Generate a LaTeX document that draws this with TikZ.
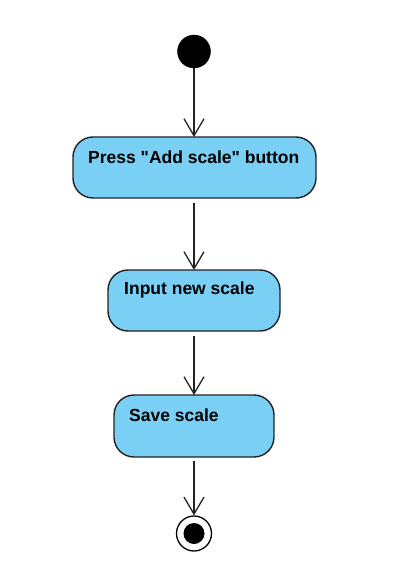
\documentclass[tikz,border=0pt]{standalone}
\usepackage{fontspec}
\setmainfont{Liberation Sans}
\usetikzlibrary{arrows.meta,calc}
\definecolor{actfill}{RGB}{122,207,245}
\definecolor{actline}{RGB}{34,34,34}
\begin{document}
\begin{tikzpicture}[x=1pt,y=-1pt,
  action/.style={draw=actline, fill=actfill, line width=1.4pt, rounded corners=20pt,
    inner sep=0pt, outer sep=0pt},
  caption/.style={anchor=west, inner sep=0pt, font=\fontsize{17.5}{20}\selectfont\bfseries},
  flow/.style={draw=actline, line width=1.3pt,
    -{Straight Barb[length=17pt,width=20pt,line width=1.3pt]}},
  initial/.style={circle, fill=black, draw=black, minimum size=33pt, inner sep=0pt},
  finalring/.style={circle, draw=black, line width=1.3pt, fill=white, minimum size=35pt, inner sep=0pt},
  finaldot/.style={circle, fill=black, minimum size=21pt, inner sep=0pt}]
\useasboundingbox (0,0) rectangle (405,580);

% initial node
\node[initial] (start) at (194,51.5) {};

% actions
\node[action, minimum width=243pt, minimum height=61pt] (press) at (194.5,167.5) {};
\node[caption] (presstxt) at ($(press.north west)+(15,20)$)
  {Press \textquotedbl Add scale\textquotedbl{} button};

\node[action, minimum width=172pt, minimum height=61pt] (input) at (194,300.5) {};
\node[caption] (inputtxt) at ($(input.north west)+(16,20)$) {Input new scale};

\node[action, minimum width=160pt, minimum height=62pt] (save) at (194,426) {};
\node[caption] (savetxt) at ($(save.north west)+(15,20)$) {Save scale};

% final node
\node[finalring] (finish) at (194,533.5) {};
\node[finaldot] (finishdot) at (finish.center) {};

% control flows
\draw[flow] (start) -- (start |- press.north);
\draw[flow, shorten <=5pt] (press.south -| start) -- (input.north -| start);
\draw[flow, shorten <=5pt] (input) -- (save);
\draw[flow, shorten <=4pt] (save) -- (finish);
\end{tikzpicture}
\end{document}
